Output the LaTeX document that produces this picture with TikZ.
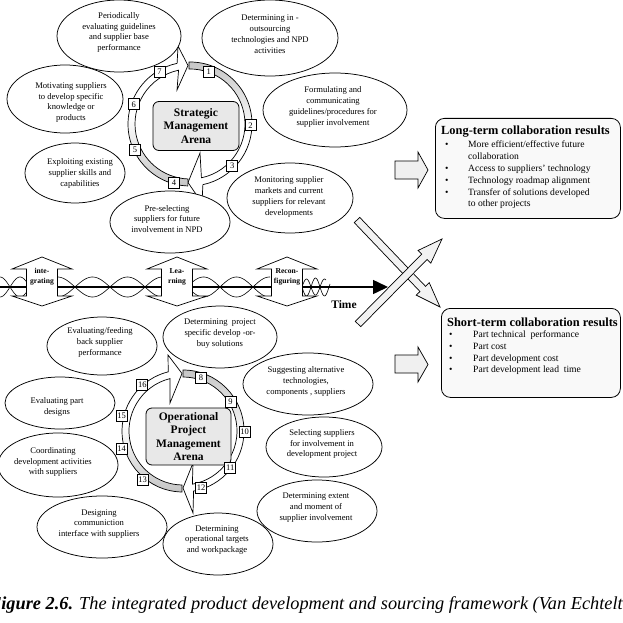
\documentclass[tikz,border=0pt]{standalone}
\usepackage{fontspec}
\setmainfont{Liberation Serif}
\usetikzlibrary{calc,shapes.geometric,arrows.meta}
\newcommand{\DblArr}[1]{%
  \path[dblarrow] (#1,257) -- ($(#1,269)+(30,0)$) -- ($(#1,269)+(15.5,0)$) -- ($(#1,296)+(15.5,0)$) -- ($(#1,296)+(30,0)$) -- (#1,306)
    -- ($(#1,296)+(-30,0)$) -- ($(#1,296)+(-15.5,0)$) -- ($(#1,269)+(-15.5,0)$) -- ($(#1,269)+(-30,0)$) -- cycle;}
\newcommand{\FatArrow}[2]{%
  \coordinate (H) at ($(#2)!25pt!(#1)$);
  \path[xarrow] ($(#1)!3.8pt!90:(#2)$) -- ($(H)!3.8pt!-90:(#1)$) -- ($(H)!9pt!-90:(#1)$) -- (#2)
     -- ($(H)!9pt!90:(#1)$) -- ($(H)!3.8pt!90:(#1)$) -- ($(#1)!3.8pt!-90:(#2)$) -- cycle;}
\begin{document}
\begin{tikzpicture}[x=1pt,y=-1pt,
  ell/.style={draw, ellipse, line width=0.75pt, fill=white, inner sep=0pt},
  etext/.style={align=center, font=\fontsize{8.6}{10.8}\selectfont, inner sep=0pt},
  numbox/.style={draw, line width=0.7pt, fill=white, minimum width=11pt, minimum height=11pt, inner sep=0pt, inner xsep=1pt, font=\fontsize{8.5}{8.5}\selectfont},
  arena/.style={draw, line width=0.8pt, rounded corners=6pt, fill=gray!18, align=center, inner sep=0pt, font=\bfseries\fontsize{11.5}{13.3}\selectfont},
  ring/.style={draw, line width=0.7pt},
  dblarrow/.style={draw, line width=0.7pt, fill=white},
  wave/.style={line width=0.6pt},
  blk/.style={draw, line width=0.7pt, fill=gray!12},
  xarrow/.style={draw, line width=0.7pt, fill=gray!10},
  res/.style={draw, line width=0.8pt, rounded corners=9pt, fill=gray!5},
  restitle/.style={anchor=base west, inner sep=0pt, font=\bfseries\fontsize{12.4}{13}\selectfont},
  resitem/.style={anchor=base west, inner sep=0pt, font=\fontsize{9.6}{10}\selectfont},
  tl/.style={align=center, inner sep=0pt, font=\bfseries\fontsize{7.6}{10.2}\selectfont},
]
\useasboundingbox (0,0) rectangle (623,623);
\fill[white] (0,0) rectangle (623,623);

% ---------- time line ----------
\draw[wave] plot[domain=0:27, samples=30] (\x,{287+10*sin((\x-10)*9)});
\draw[wave] plot[domain=0:27, samples=30] (\x,{287-10*sin((\x-10)*9)});
\draw[wave] plot[domain=57:162, samples=80] (\x,{287+10*sin((\x-75)*5.143)});
\draw[wave] plot[domain=57:162, samples=80] (\x,{287-10*sin((\x-75)*5.143)});
\draw[wave] plot[domain=192:270, samples=70] (\x,{287+10*sin((\x-220)*5.4545)});
\draw[wave] plot[domain=192:270, samples=70] (\x,{287-10*sin((\x-220)*5.4545)});
\draw[wave] plot[domain=302:330, samples=40] (\x,{287+9*sin((\x-302)*20)});
\draw[wave] plot[domain=302:326, samples=40] (\x,{287-8*sin((\x-302)*20)});
\coordinate (tstart) at (0,287);
\coordinate (tend) at (388,287);
\draw[line width=1.5pt, -{Triangle[length=15pt,width=14pt]}] (tstart) -- (tend);

\DblArr{42}
\DblArr{177}
\DblArr{287}
\node[tl] (integt) at (42,277) {inte-\\grating};
\node[tl] (learnt) at (177,277) {Lea-\\rning};
\node[tl] (recont) at (287,277) {Recon-\\figuring};
\node[inner sep=0pt, font=\bfseries\fontsize{11.5}{12}\selectfont] (time) at (344,305) {Time};

% ---------- strategic ring ----------
\coordinate (C1) at (190,124);
\path[ring, top color=gray!45, bottom color=white, middle color=white]
  ($(C1)+(-91:62)$) arc[start angle=-91, end angle=78, radius=62]
  -- (202,203) -- (188,182.5) -- (200,153) -- ($(C1)+(78:55)$)
  arc[start angle=78, end angle=-91, radius=55] -- cycle;
\path[ring, bottom color=gray!45, top color=white, middle color=white]
  ($(C1)+(92:62)$) arc[start angle=92, end angle=258, radius=62]
  -- (178,46) -- (188,65.5) -- (177,90) -- ($(C1)+(258:55)$)
  arc[start angle=258, end angle=92, radius=55] -- cycle;

% ---------- operational ring ----------
\coordinate (C2) at (183,431);
\path[ring, top color=gray!45, bottom color=white, middle color=white]
  ($(C2)+(-90:61)$) arc[start angle=-90, end angle=80, radius=61]
  -- (193,513) -- (183,488) -- (193,463) -- ($(C2)+(80:54)$)
  arc[start angle=80, end angle=-90, radius=54] -- cycle;
\path[ring, bottom color=gray!45, top color=white, middle color=white]
  ($(C2)+(91:61)$) arc[start angle=91, end angle=256, radius=61]
  -- (168,355) -- (182,373.5) -- (170,403) -- ($(C2)+(256:54)$)
  arc[start angle=256, end angle=91, radius=54] -- cycle;

% ---------- strategic ellipses ----------
\node[ell, minimum width=124pt, minimum height=72pt] (e1) at (119,36) {};
\node[etext] (t1) at (119,32.5) {Periodically\\evaluating guidelines\\and supplier base\\performance};
\node[ell, minimum width=136pt, minimum height=76pt] (e2) at (270,38) {};
\node[etext] (t2) at (270,34) {Determining in -\\outsourcing\\technologies and NPD\\activities};
\node[ell, minimum width=116pt, minimum height=68pt] (e3) at (65,99) {};
\node[etext] (t3) at (71,102.5) {Motivating suppliers\\to develop specific\\knowledge or\\products};
\node[ell, minimum width=144pt, minimum height=74pt] (e4) at (335,110) {};
\node[etext] (t4) at (333,107) {Formulating and\\communicating\\guidelines/procedures for\\supplier involvement};
\node[ell, minimum width=100pt, minimum height=60pt] (e5) at (75,173) {};
\node[etext] (t5) at (80,173.5) {Exploiting existing\\supplier skills and\\capabilities};
\node[ell, minimum width=126pt, minimum height=70pt] (e6) at (290,198) {};
\node[etext] (t6) at (289,197) {Monitoring supplier\\markets and current\\suppliers for relevant\\developments};
\node[ell, minimum width=120pt, minimum height=62pt] (e7) at (170,222) {};
\node[etext] (t7) at (167,219) {Pre-selecting\\suppliers for future\\involvement in NPD};

% ---------- operational ellipses ----------
\node[ell, minimum width=110pt, minimum height=58pt] (o1) at (102,346) {};
\node[etext] (u1) at (100,342.5) {Evaluating/feeding\\back supplier\\performance};
\node[ell, minimum width=114pt, minimum height=62pt] (o2) at (220,337) {};
\node[etext] (u2) at (220,333.5) {Determining\ \ project\\specific develop -or-\\buy solutions};
\node[ell, minimum width=130pt, minimum height=62pt] (o3) at (308,384) {};
\node[etext] (u3) at (306,381.5) {Suggesting alternative\\technologies,\\components , suppliers};
\node[ell, minimum width=110pt, minimum height=52pt] (o4) at (60,403) {};
\node[etext] (u4) at (57,407) {Evaluating part\\designs};
\node[ell, minimum width=120pt, minimum height=64pt] (o6) at (58,465) {};
\node[etext] (u6) at (53,462) {Coordinating\\development activities\\with suppliers};
\node[ell, minimum width=116pt, minimum height=60pt] (o5) at (324,447) {};
\node[etext] (u5) at (322,444) {Selecting suppliers\\for involvement in\\development project};
\node[ell, minimum width=120pt, minimum height=62pt] (o7) at (317,511) {};
\node[etext] (u7) at (316,507.5) {Determining extent\\and moment of\\supplier involvement};
\node[ell, minimum width=130pt, minimum height=62pt] (o8) at (102,527) {};
\node[etext] (u8) at (99,524) {Designing\\communiction\\interface with suppliers};
\node[ell, minimum width=110pt, minimum height=62pt] (o9) at (218,544) {};
\node[etext] (u9) at (217,540) {Determining\\operational targets\\and workpackage};

% ---------- arenas ----------
\node[arena, minimum width=86pt, minimum height=49pt] (sma) at (196,126) {Strategic\\Management\\Arena};
\node[arena, minimum width=85pt, minimum height=57pt] (opma) at (188.5,436.5) {Operational\\Project\\Management\\Arena};

% ---------- number boxes ----------
\node[numbox] (n1) at (208.7,71.7) {1};
\node[numbox] (n2) at (250.5,125.3) {2};
\node[numbox] (n3) at (232.3,166) {3};
\node[numbox] (n4) at (174,183) {4};
\node[numbox] (n5) at (135,150) {5};
\node[numbox] (n6) at (133.8,104.3) {6};
\node[numbox] (n7) at (159.5,71.8) {7};
\node[numbox] (n8) at (201,377.5) {8};
\node[numbox] (n9) at (230.5,401.5) {9};
\node[numbox] (n10) at (244.7,431.5) {10};
\node[numbox] (n11) at (230.3,467.5) {11};
\node[numbox] (n12) at (201,487.5) {12};
\node[numbox] (n13) at (142.5,479.5) {13};
\node[numbox] (n14) at (121.7,448.7) {14};
\node[numbox] (n15) at (121.7,416) {15};
\node[numbox] (n16) at (142.3,384.5) {16};

% ---------- block arrows to results ----------
\path[blk] (395,161) -- (418,161) -- (418,152) -- (428,170) -- (418,188) -- (418,179) -- (395,179) -- cycle;
\path[blk] (395,355) -- (418,355) -- (418,347) -- (428,364.5) -- (418,382) -- (418,373) -- (395,373) -- cycle;

% ---------- results ----------
\node[res, minimum width=185pt, minimum height=100pt, anchor=north west] (lt) at (435,118) {};
\node[restitle] (ltt) at (441,135) {Long-term collaboration results};
\node[resitem] (ltb1) at (445,147.7) {\textbullet};
\node[resitem] (lti1) at (468,147.7) {More efficient/effective future};
\node[resitem] (lti1b) at (468,159.3) {collaboration};
\node[resitem] (ltb2) at (445,171.5) {\textbullet};
\node[resitem] (lti2) at (468,171.5) {Access to suppliers' technology};
\node[resitem] (ltb3) at (445,183.3) {\textbullet};
\node[resitem] (lti3) at (468,183.3) {Technology roadmap alignment};
\node[resitem] (ltb4) at (445,195) {\textbullet};
\node[resitem] (lti4) at (468,195) {Transfer of solutions developed};
\node[resitem] (lti4b) at (468,206.7) {to other projects};

\node[res, minimum width=179pt, minimum height=89pt, anchor=north west] (st) at (441,308) {};
\node[restitle] (stt) at (447,326) {Short-term collaboration results};
\node[resitem] (stb1) at (449,337.5) {\textbullet};
\node[resitem] (sti1) at (473,337.5) {Part technical\ \ performance};
\node[resitem] (stb2) at (449,349.3) {\textbullet};
\node[resitem] (sti2) at (473,349.3) {Part cost};
\node[resitem] (stb3) at (449,361) {\textbullet};
\node[resitem] (sti3) at (473,361) {Part development cost};
\node[resitem] (stb4) at (449,372.7) {\textbullet};
\node[resitem] (sti4) at (473,372.7) {Part development lead\ \ time};

% ---------- crossing arrows ----------
\coordinate (a1t) at (357,220);
\coordinate (a1h) at (440,307);
\coordinate (a2t) at (358,324);
\coordinate (a2h) at (442,239);
\FatArrow{a1t}{a1h}
\FatArrow{a2t}{a2h}

% ---------- caption ----------
\node[anchor=base west, inner sep=0pt, font=\fontsize{18.3}{18.3}\selectfont\itshape] (cap) at (-11,609)
  {\textbf{Figure 2.6.} The integrated product development and sourcing framework (Van Echtelt};
\end{tikzpicture}
\end{document}
